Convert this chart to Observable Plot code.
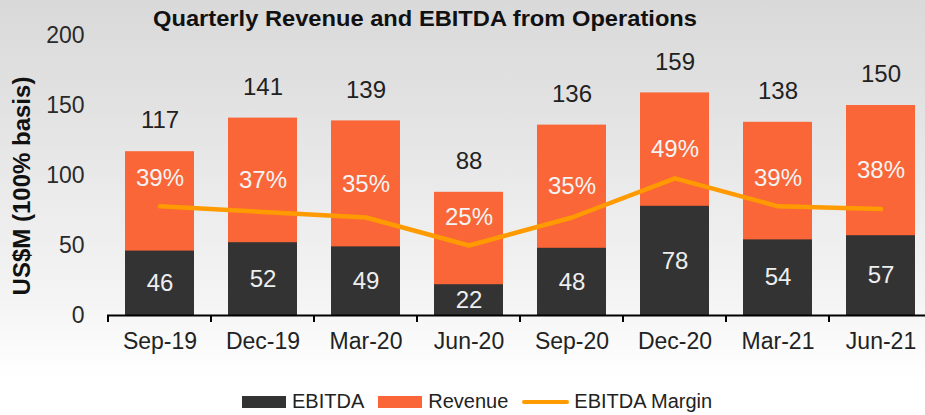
<!DOCTYPE html>
<html>
<head>
<meta charset="utf-8">
<script src="https://cdn.jsdelivr.net/npm/d3@7"></script>
<script src="https://cdn.jsdelivr.net/npm/@observablehq/plot@0.6"></script>
<style>
  body { margin: 0; font-family: "Liberation Sans", Arial, sans-serif; }
  #wrap { position: relative; width: 925px; height: 415px; overflow: hidden;
    background: linear-gradient(to bottom, #d9d9d9 0%, #e2e2e2 25%, #ececec 50%, #f4f4f4 72%, #fbfbfb 84%, #ffffff 92%); }
  #chart { position: absolute; left: 0; top: 0; }
  #title { position: absolute; left: 0; top: 0; }
  #ylabel { position: absolute; left: 22px; top: 186px; transform: translate(-50%, -50%) rotate(-90deg);
    white-space: nowrap; font-weight: bold; font-size: 24px; color: #111; }
  #legend { position: absolute; left: 242px; top: 390px; display: flex; align-items: center; font-size: 20px; color: #222; }
  #legend .sw { width: 44px; height: 12px; margin-right: 6px; }
  #legend .ln { width: 47px; height: 4px; border-radius: 2px; margin-right: 5px; }
  #legend .item { display: flex; align-items: center; margin-right: 14px; }
</style>
</head>
<body>
<div id="wrap">
  <div id="chart"></div>
  <svg id="title" width="925" height="40">
    <text x="425" y="26" text-anchor="middle" textLength="544" lengthAdjust="spacingAndGlyphs"
      style="font-family:'Liberation Sans Narrow','Liberation Sans',Arial,sans-serif;font-weight:bold;font-size:22px;fill:#111">Quarterly Revenue and EBITDA from Operations</text>
  </svg>
  <div id="ylabel">US$M (100% basis)</div>
  <div id="legend"></div>
</div>
<script>
const quarters = ["Sep-19","Dec-19","Mar-20","Jun-20","Sep-20","Dec-20","Mar-21","Jun-21"];
const revenue = [117,141,139,88,136,159,138,150];
const ebitda = [46,52,49,22,48,78,54,57];
const marginPct = [39,37,35,25,35,49,39,38];
const yTicks = [0,50,100,150,200];
const seriesNames = ["EBITDA","Revenue","EBITDA Margin"];

const colors = {ebitda: "#333333", revenue: "#FA6637", margin: "#FF9A00"};

const data = quarters.map((q, i) => ({
  q, revenue: revenue[i], ebitda: ebitda[i], margin: marginPct[i]
}));

// margin (%) drawn on the left axis where 100% = 200
const marginY = d => d.margin * 2;
// margin labels: middle of the orange segment, lifted above the margin line where they would touch it
const marginLabelY = d => Math.max((d.revenue + d.ebitda) / 2, marginY(d) + 20);

const padInner = 0.33;

function boundaryTicks(index, scales, values, dimensions) {
  const x = scales.x, y = scales.y;
  const step = x(quarters[1]) - x(quarters[0]);
  const y0 = y(0);
  const g = d3.create("svg:g");
  const xs = quarters.map(q => x(q) - step * padInner / 2);
  xs.push(x(quarters[quarters.length - 1]) + step - step * padInner / 2);
  for (const bx of xs) {
    g.append("line").attr("x1", bx).attr("x2", bx).attr("y1", y0).attr("y2", y0 + 7)
      .attr("stroke", "#000").attr("stroke-width", 2);
  }
  return g.node();
}

const chart = Plot.plot({
  width: 925,
  height: 370,
  marginTop: 35,
  marginBottom: 55,
  marginLeft: 107,
  marginRight: 0,
  style: {background: "transparent", fontFamily: "'Liberation Sans', Arial, sans-serif", overflow: "visible"},
  x: {type: "band", domain: quarters, range: [107, 933], paddingInner: padInner, paddingOuter: padInner / 2, align: 0.5},
  y: {domain: [0, 200]},
  marks: [
    Plot.barY(data, {x: "q", y: "revenue", fill: colors.revenue}),
    Plot.barY(data, {x: "q", y: "ebitda", fill: colors.ebitda}),
    Plot.line(data, {x: "q", y: marginY, stroke: colors.margin, strokeWidth: 4.5, strokeLinecap: "round", strokeLinejoin: "round"}),
    Plot.ruleY([0], {stroke: "#000", strokeWidth: 2}),
    boundaryTicks,
    Plot.text(data, {x: "q", y: "revenue", text: d => String(d.revenue), dy: -31, fontSize: 24, fill: "#222"}),
    Plot.text(data, {x: "q", y: marginLabelY, text: d => d.margin + "%", fontSize: 24, fill: "#f4f4f4"}),
    Plot.text(data, {x: "q", y: d => d.ebitda / 2, text: d => String(d.ebitda), fontSize: 24, fill: "#eeeeee"}),
    Plot.axisY(yTicks, {tickSize: 0, tickPadding: 23, fontSize: 23, fill: "#2a2a2a", label: null}),
    Plot.axisX({tickSize: 0, tickPadding: 17, fontSize: 23, fill: "#222", label: null})
  ]
});
document.getElementById("chart").appendChild(chart);

const legend = document.getElementById("legend");
[
  {name: seriesNames[0], kind: "sw", color: colors.ebitda},
  {name: seriesNames[1], kind: "sw", color: colors.revenue},
  {name: seriesNames[2], kind: "ln", color: colors.margin}
].forEach(it => {
  const item = document.createElement("div");
  item.className = "item";
  const s = document.createElement("div");
  s.className = it.kind;
  s.style.background = it.color;
  const t = document.createElement("span");
  t.textContent = it.name;
  item.appendChild(s); item.appendChild(t);
  legend.appendChild(item);
});
</script>
</body>
</html>
